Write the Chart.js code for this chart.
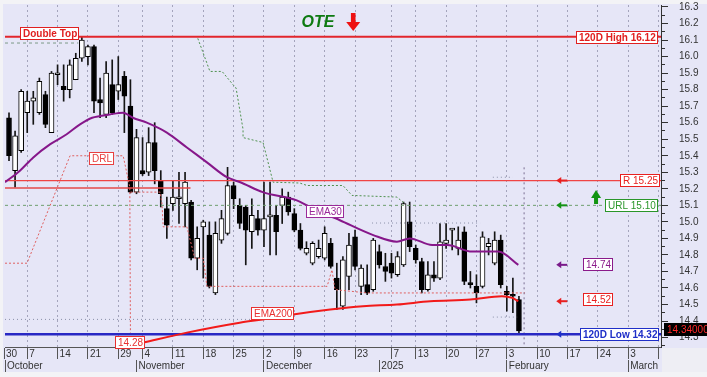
<!DOCTYPE html>
<html>
<head>
<meta charset="utf-8">
<script src="https://cdn.jsdelivr.net/npm/chart.js@4.4.1/dist/chart.umd.min.js"></script>
<style>
  html, body { margin: 0; padding: 0; background: #fff; }
</style>
</head>
<body>
<canvas id="myChart" width="707" height="377"></canvas>
<script>
// daily candles, index 0 = 1 Oct 2024 ... 84 = 5 Feb 2025
const opens  = [15.63,15.31,15.43,15.66,15.73,15.66,15.77,15.54,15.89,15.82,15.80,15.86,15.99,16.00,16.06,15.74,15.65,15.83,15.79,15.88,
                15.70,15.18,15.31,15.30,15.48,15.25,15.08,15.11,15.14,15.11,15.12,14.78,14.97,14.92,14.57,14.89,14.93,15.22,15.10,15.09,
                14.94,15.02,14.95,15.03,15.04,15.10,15.15,15.05,14.95,14.81,14.75,14.79,14.78,14.87,14.66,14.49,14.67,14.91,14.61,14.62,
                14.59,14.82,14.73,14.75,14.68,14.74,15.00,14.84,14.76,14.59,14.68,14.66,14.87,14.95,14.84,14.94,14.63,14.61,14.61,14.85,
                14.75,14.89,14.58,14.56,14.53];
const highs  = [15.66,15.55,15.80,15.79,15.79,15.87,15.79,15.91,15.95,15.95,15.98,16.02,16.12,16.07,16.07,15.87,15.97,15.98,16.00,15.91,
                15.86,15.56,15.51,15.57,15.60,15.31,15.15,15.25,15.30,15.30,15.13,14.97,15.01,15.00,15.00,15.07,15.33,15.24,15.14,15.10,
                15.14,15.07,15.24,15.24,15.10,15.20,15.18,15.08,14.99,14.88,14.88,14.89,14.97,14.90,14.75,14.79,14.93,14.95,14.74,14.74,
                14.90,14.86,14.81,14.81,14.82,15.12,15.12,14.86,14.78,14.76,14.76,14.99,14.99,14.96,14.97,14.97,14.70,14.68,14.94,14.90,
                14.94,14.92,14.61,14.66,14.55];
const lows   = [15.37,15.21,15.42,15.54,15.59,15.65,15.57,15.54,15.83,15.73,15.75,15.86,15.97,15.95,15.66,15.63,15.63,15.65,15.74,15.54,
                15.175,15.17,15.28,15.28,15.23,15.09,14.90,15.07,14.99,14.97,14.77,14.71,14.66,14.60,14.56,14.87,14.92,15.08,14.96,14.74,
                14.84,14.92,14.85,14.80,14.80,14.99,15.04,14.94,14.83,14.80,14.74,14.78,14.77,14.72,14.47,14.47,14.59,14.71,14.56,14.56,
                14.58,14.72,14.64,14.66,14.67,14.73,14.82,14.75,14.57,14.58,14.64,14.65,14.84,14.83,14.80,14.62,14.60,14.51,14.60,14.80,
                14.74,14.60,14.46,14.45,14.32];
const closes = [15.40,15.52,15.79,15.73,15.75,15.85,15.59,15.90,15.90,15.80,15.95,15.99,16.10,16.06,15.73,15.72,15.90,15.66,15.83,15.76,
                15.18,15.51,15.29,15.48,15.31,15.17,14.98,15.15,15.15,15.24,14.78,14.90,15.00,14.61,14.93,15.02,15.22,15.14,14.99,14.95,
                15.04,14.95,15.02,15.04,14.94,15.15,15.06,14.95,14.84,14.84,14.87,14.84,14.93,14.73,14.59,14.77,14.86,14.73,14.72,14.57,
                14.89,14.74,14.70,14.69,14.79,15.11,14.85,14.77,14.59,14.68,14.66,14.88,14.89,14.96,14.89,14.64,14.62,14.57,14.91,14.87,
                14.89,14.62,14.56,14.55,14.34];

// moving averages (x = day index)
const ema30X  = [-0.66,1.8,4.0,6.8,9.5,11.7,13.7,15.0,16.6,18.8,20.4,22.7,26.0,29.3,32.6,35.9,38.1,41.8,47.4,49.6,54.5,60.0,63.9,66.0,69.7,72.2,76.3,80.6,83.9];
const ema30   = [15.24,15.31,15.39,15.47,15.53,15.59,15.63,15.64,15.65,15.66,15.63,15.60,15.54,15.45,15.36,15.27,15.24,15.18,15.13,15.09,15.01,14.92,14.88,14.90,14.86,14.86,14.82,14.82,14.74];
const ema200X = [22.1,29.3,38.0,41.8,46.8,52.9,58.3,63.9,69.4,76.0,81.2,82.9,83.9];
const ema200  = [14.27,14.33,14.39,14.41,14.44,14.47,14.49,14.50,14.52,14.53,14.55,14.54,14.52];

// DRL and trailing stop step lines
const drlX     = [-0.66,2.97,10.05,18.8,19.9,20.0];
const drl      = [14.75,14.75,15.40,15.40,15.21,14.33];
const drlStepX = [20.0,24.9,25.2,25.4,29.3,30.6,32.0,32.6,52.4,53.2,53.7,59.0,85.0];
const drlStep  = [15.18,15.18,15.11,14.97,14.97,14.78,14.78,14.61,14.61,14.71,14.59,14.57,14.57];
const trailX   = [31.1,33.1,35.1,36.9,37.4,38.55,38.55,41.85,43.5,47.9,49.1,55.0,56.5,63.9,65.2];
const trail    = [16.11,15.91,15.91,15.83,15.81,15.56,15.51,15.48,15.24,15.235,15.22,15.22,15.16,15.15,15.11];

// levels
const level120High = 16.12;
const levelR = 15.25;
const levelR2 = 15.205;
const levelURL = 15.10;
const level120Low = 14.32;
const lastEma30 = 14.74;
const lastEma200 = 14.52;
const lastClose = 14.34;
const ema200Start = 14.28;

// axes
const xMin = -0.66, xMax = 107.4, yMin = 14.243, yMax = 16.312;
const dayTickPos    = [-0.82,3,8,13,18,22,27,32,37,42,47,52,57,63,67,72,77,82,87,92,97,102,107];
const dayTickLabels = ['30','7','14','21','29','4','11','18','25','2','9','16','23','7','13','20','27','3','10','17','24','3',''];
const monthTickPos  = [-0.66,21,42,61,82,102];
const monthLabels   = ['October','November','December','2025','February','March'];
const priceTicks    = [14.3,14.4,14.5,14.6,14.7,14.8,14.9,15.0,15.1,15.2,15.3,15.4,15.5,15.6,15.7,15.8,15.9,16.0,16.1,16.2,16.3];

Chart.defaults.font.family = '"Liberation Sans", Arial, sans-serif';
Chart.defaults.font.size = 10;
Chart.defaults.color = '#333';

const pts = (xs, ys) => xs.map((x, i) => ({x: x, y: ys[i]}));
function lineDs(data, color, width, dash, extra) {
  return Object.assign({
    type: 'line', data: data, borderColor: color, borderWidth: width,
    borderDash: dash || [], pointRadius: 0, fill: false, tension: 0, order: 1
  }, extra || {});
}
const hline = (v, from, to) => [{x: from, y: v}, {x: to, y: v}];

function tag(ctx, text, x, y, o) {
  ctx.font = (o.bold ? 'bold ' : '') + '10px "Liberation Sans", Arial, sans-serif';
  const w = Math.round(ctx.measureText(text).width + 5), h = 13;
  let left = o.align === 'right' ? x - w : o.align === 'center' ? x - w / 2 : x;
  left = Math.round(left);
  const top = Math.round(y - h / 2);
  ctx.fillStyle = o.fill || '#ffffff';
  ctx.fillRect(left, top, w, h);
  if (!o.noBorder) {
    ctx.strokeStyle = o.color;
    ctx.lineWidth = 1;
    ctx.strokeRect(left + 0.5, top + 0.5, w - 1, h - 1);
  }
  ctx.fillStyle = o.color;
  ctx.textBaseline = 'middle';
  ctx.textAlign = 'left';
  ctx.fillText(text, left + 3, top + h / 2 + 0.5);
}

function leftArrow(ctx, x, y, color) {
  ctx.fillStyle = color;
  ctx.beginPath();
  ctx.moveTo(x - 4, y); ctx.lineTo(x + 1, y - 3.5); ctx.lineTo(x + 1, y + 3.5);
  ctx.closePath(); ctx.fill();
  ctx.fillRect(x, y - 1, 7, 2);
}

const panel = {
  id: 'panel',
  beforeDraw(chart) {
    const {ctx, width, height, chartArea: a} = chart;
    ctx.save();
    ctx.fillStyle = '#f3f3f6';
    ctx.fillRect(0, 0, width, height);
    ctx.fillStyle = '#e6e6f7';
    ctx.fillRect(3, 4, width - 3, 368);
    ctx.fillStyle = '#eeeef4';
    ctx.fillRect(a.right + 1, a.bottom + 1, width - a.right, 372 - a.bottom - 1);
    ctx.restore();
  }
};

const annotate = {
  id: 'annotate',
  afterDatasetsDraw(chart) {
    const {ctx, chartArea: a, scales} = chart;
    const X = v => scales.x.getPixelForValue(v);
    const Y = v => scales.y.getPixelForValue(v);
    ctx.save();

    // OTE text and red arrow
    ctx.font = 'italic bold 16px "Liberation Sans", Arial, sans-serif';
    ctx.fillStyle = '#0e7a12';
    ctx.textAlign = 'left';
    ctx.textBaseline = 'middle';
    ctx.fillText('OTE', X(48.2), 23);
    const ax = X(56.7);
    ctx.fillStyle = '#ee1111';
    ctx.fillRect(ax - 2.3, 13, 4.6, 10);
    ctx.beginPath();
    ctx.moveTo(ax - 7, 22); ctx.lineTo(ax + 7, 22); ctx.lineTo(ax, 31);
    ctx.closePath(); ctx.fill();

    // green up arrow
    const ux = X(96.7);
    ctx.fillStyle = '#119411';
    ctx.beginPath();
    ctx.moveTo(ux - 5, 198); ctx.lineTo(ux + 5, 198); ctx.lineTo(ux, 190);
    ctx.closePath(); ctx.fill();
    ctx.fillRect(ux - 2, 197, 4, 7);

    // small arrows column
    const arX = X(90.8);
    leftArrow(ctx, arX, Y(levelR), '#e82020');
    leftArrow(ctx, arX, Y(levelURL), '#169416');
    leftArrow(ctx, arX, Y(lastEma30), '#7a1a8a');
    leftArrow(ctx, arX, Y(lastEma200), '#e82020');
    leftArrow(ctx, arX, Y(level120Low), '#2030c8');

    // tags
    tag(ctx, 'Double Top', X(1.8), Y(level120High) - 3, {color: '#e02020', bold: true});
    tag(ctx, '120D High ' + level120High.toFixed(2), a.right - 3, Y(level120High) + 1, {color: '#e02020', bold: true, align: 'right'});
    tag(ctx, 'R ' + levelR.toFixed(2), a.right - 1, Y(levelR), {color: '#e82020', align: 'right'});
    tag(ctx, 'URL ' + levelURL.toFixed(2), a.right - 3, Y(levelURL), {color: '#2a962a', align: 'right'});
    tag(ctx, lastEma30.toFixed(2), X(97), Y(lastEma30), {color: '#8a1a8a', align: 'center'});
    tag(ctx, lastEma200.toFixed(2), X(97), Y(lastEma200) - 2, {color: '#e82020', align: 'center'});
    tag(ctx, '120D Low ' + level120Low.toFixed(2), a.right - 2, Y(level120Low), {color: '#1f2fc8', bold: true, align: 'right'});
    tag(ctx, 'DRL', X(15.2), Y(15.386), {color: '#e84040', align: 'center'});
    tag(ctx, 'EMA30', X(52.1), Y(15.06), {color: '#9a2a9a', align: 'center'});
    tag(ctx, 'EMA200', X(43.4), Y(14.448), {color: '#e83030', align: 'center'});
    tag(ctx, ema200Start.toFixed(2), X(19.9), Y(14.27), {color: '#e83030', align: 'center'});

    // last price on the axis
    tag(ctx, lastClose.toFixed(5), a.right + 3, Y(lastClose) - 1, {color: '#ff2a2a', fill: '#000000', noBorder: true});
    ctx.restore();
  }
};

const wicks = highs.map((h, i) => ({x: i, y: [lows[i], h]}));
const bodies = opens.map((o, i) => ({x: i, y: [o, closes[i]]}));

new Chart(document.getElementById('myChart'), {
  type: 'bar',
  data: {
    datasets: [
      // level lines
      lineDs(hline(level120High, xMin, xMax), '#e2262c', 2),
      lineDs(hline(levelR, xMin, xMax), '#f04444', 1.2),
      lineDs(hline(levelR2, xMin, 29.9), '#e44a4a', 1.6),
      lineDs(hline(levelURL, xMin, xMax), '#6f9f6f', 1, [3, 3]),
      lineDs(hline(level120Low, xMin, xMax), '#2828c4', 2.5),
      // dotted helpers
      lineDs(hline(16.082, xMin, 11.4), '#7d9a88', 1, [3, 3]),
      lineDs(hline(14.41, xMin, 39.7), '#8a90a8', 1, [1, 3]),
      lineDs(hline(14.993, 59.8, 77.6), '#8a90a8', 1, [1, 3]),
      lineDs(hline(14.424, 79.7, 83.7), '#8a90a8', 1, [1, 3]),
      lineDs(hline(15.27, 79.7, 83.0), '#8a90a8', 1, [1, 3]),
      lineDs([{x: 84.85, y: 15.33}, {x: 84.85, y: yMin}], '#7a6e92', 1, [2, 3]),
      lineDs(pts(drlX, drl), '#e06060', 1, [2, 2]),
      lineDs(pts(drlStepX, drlStep), '#e06060', 1, [2, 2]),
      lineDs(pts(trailX, trail), '#4f924f', 1, [2, 2]),
      // moving averages
      lineDs(pts(ema30X, ema30), '#86178a', 2, [], {tension: 0.35, cubicInterpolationMode: 'monotone', order: 0}),
      lineDs(pts(ema200X, ema200), '#f21a1a', 2, [], {tension: 0.35, cubicInterpolationMode: 'monotone', order: 0}),
      // candles
      {
        type: 'bar', data: wicks, grouped: false, barThickness: 1,
        backgroundColor: '#151515', borderWidth: 0, order: 10
      },
      {
        type: 'bar', data: bodies, grouped: false, barThickness: 5, minBarLength: 2,
        backgroundColor: closes.map((c, i) => c >= opens[i] ? '#ffffff' : '#000000'),
        borderColor: '#000000', borderWidth: 1, borderSkipped: false, order: 9
      }
    ]
  },
  options: {
    responsive: false,
    animation: false,
    devicePixelRatio: 1,
    layout: { padding: { left: 5, top: 5, right: 0, bottom: 5 } },
    plugins: { legend: { display: false }, tooltip: { enabled: false } },
    scales: {
      x: {
        type: 'linear', position: 'bottom', weight: 0, min: xMin, max: xMax, offset: false,
        afterBuildTicks: s => { s.ticks = dayTickPos.map(v => ({value: v})); },
        afterFit: s => { s.height = 13; s.paddingLeft = 0; s.paddingRight = 0; },
        ticks: {
          autoSkip: false, maxRotation: 0, align: 'start', labelOffset: 2, padding: -11,
          color: '#333', font: {size: 10},
          callback: (v, i) => dayTickLabels[i]
        },
        grid: {
          offset: false, color: c => c.index === 0 ? 'rgba(0,0,0,0)' : '#a4a4bc', lineWidth: 1,
          tickLength: 12, tickColor: '#555', tickBorderDash: [], tickWidth: 1
        },
        border: { color: '#555', width: 1, dash: [2, 3] }
      },
      x2: {
        type: 'linear', position: 'bottom', weight: 1, min: xMin, max: xMax, offset: false,
        afterBuildTicks: s => { s.ticks = monthTickPos.map(v => ({value: v})); },
        afterFit: s => { s.height = 12; s.paddingLeft = 0; s.paddingRight = 0; },
        ticks: {
          autoSkip: false, maxRotation: 0, align: 'start', labelOffset: 2, padding: -12,
          color: '#333', font: {size: 10},
          callback: (v, i) => monthLabels[i]
        },
        grid: {
          offset: false, drawOnChartArea: false, tickLength: 12, tickColor: '#555', tickBorderDash: []
        },
        border: { display: false }
      },
      y: {
        type: 'linear', position: 'right', weight: 1, min: yMin, max: yMax,
        afterBuildTicks: s => { s.ticks = priceTicks.map(v => ({value: v})); },
        afterFit: s => { s.width = 46; s.paddingTop = 0; s.paddingBottom = 0; },
        ticks: {
          autoSkip: false, padding: 11, color: '#333', font: {size: 10},
          callback: v => v.toFixed(1)
        },
        grid: { drawOnChartArea: false, tickLength: 7, tickColor: '#333', tickBorderDash: [] },
        border: { color: '#333', width: 1 }
      },
      y2: {
        type: 'linear', position: 'right', weight: 0, min: yMin, max: yMax,
        afterBuildTicks: s => {
          const minor = [];
          priceTicks.forEach(v => { minor.push(v - 0.05); minor.push(v); });
          s.ticks = minor.filter(v => v > yMin && v < yMax).map(v => ({value: v}));
        },
        afterFit: s => { s.width = 0; s.paddingTop = 0; s.paddingBottom = 0; },
        ticks: { display: false },
        grid: { drawOnChartArea: false, tickLength: 4, tickColor: '#333', tickBorderDash: [] },
        border: { display: false }
      }
    }
  },
  plugins: [panel, annotate]
});
</script>
</body>
</html>
